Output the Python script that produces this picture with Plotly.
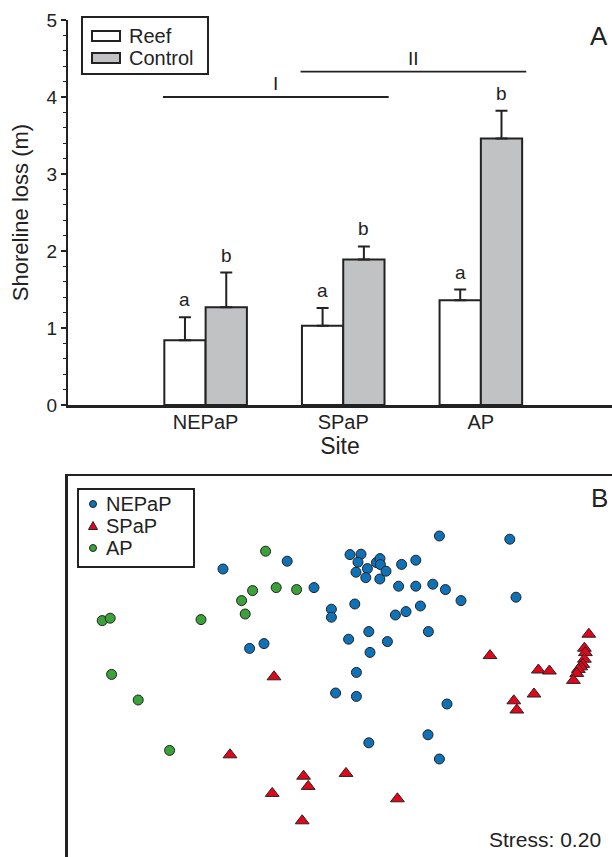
import plotly.graph_objects as go

# ---------------- Panel A data ----------------
sites = ["NEPaP", "SPaP", "AP"]
reef_mean = [0.84, 1.03, 1.36]
reef_err = [0.30, 0.23, 0.14]
control_mean = [1.27, 1.89, 3.46]
control_err = [0.45, 0.17, 0.36]
reef_letters = ["a", "a", "a"]
control_letters = ["b", "b", "b"]
group_labels = ["I", "II"]
group_start = ["NEPaP", "SPaP"]
group_end = ["SPaP", "AP"]
group_level = [4.0, 4.33]

# ---------------- Panel B data (NMDS scores) ----------------
nepap_x = [-0.585, -0.264, -0.13, -0.043, -0.043, -0.452, -0.38, 0.043, 0.05, 0.105,
           0.09, 0.182, 0.2, 0.202, 0.08, 0.137, 0.129, 0.199, 0.23, 0.308,
           0.379, 0.497, 0.849, 0.293, 0.379, 0.464, 0.527, 0.605, 0.88, 0.074,
           0.277, 0.33, 0.402, 0.144, 0.237, 0.15, 0.442, 0.082, -0.022, 0.082,
           0.535, 0.144, 0.44, 0.497]
nepap_y = [0.455, 0.494, 0.362, 0.254, 0.214, 0.058, 0.082, 0.104, 0.527, 0.529,
           0.489, 0.487, 0.507, 0.477, 0.439, 0.457, 0.412, 0.405, 0.444, 0.478,
           0.499, 0.62, 0.604, 0.369, 0.369, 0.379, 0.352, 0.297, 0.314, 0.28,
           0.225, 0.242, 0.27, 0.142, 0.092, 0.038, 0.142, -0.062, -0.165, -0.182,
           -0.22, -0.414, -0.374, -0.495]
spap_x = [-0.33, -0.55, -0.182, -0.159, -0.339, 0.03, -0.189, 0.287, 0.75, 0.992,
          1.047, 0.97, 0.869, 0.884, 1.244, 1.222, 1.227, 1.222, 1.214, 1.204,
          1.192, 1.184, 1.167]
spap_y = [-0.084, -0.474, -0.581, -0.632, -0.667, -0.567, -0.804, -0.694, 0.022, -0.05,
          -0.055, -0.17, -0.204, -0.25, 0.129, 0.059, 0.037, 0.004, -0.022, -0.034,
          -0.047, -0.067, -0.102]
ap_x = [-0.372, -0.437, -0.319, -0.217, -0.492, -0.474, -1.189, -1.149, -0.695, -1.142,
        -1.009, -0.852]
ap_y = [0.544, 0.347, 0.362, 0.352, 0.297, 0.23, 0.197, 0.209, 0.202, -0.072,
        -0.2, -0.452]
stress_value = 0.20

# ---------------- styling ----------------
W, H = 612, 857
FONT = "Liberation Sans, Arial, Helvetica, sans-serif"
INK = "#222222"
GRAY = "#c1c2c4"
BLUE = "#0f72b9"
RED = "#e3061b"
GREEN = "#3ba23a"


def px_x(p):
    return p / W


def px_y(p):
    return 1 - p / H


fig = go.Figure()

fig.add_trace(go.Bar(
    x=sites, y=reef_mean, name="Reef", offsetgroup="reef",
    marker=dict(color="white", line=dict(color=INK, width=2)),
    error_y=dict(type="data", symmetric=False, array=reef_err,
                 arrayminus=[0] * len(reef_err), color=INK, thickness=2, width=6),
    xaxis="x", yaxis="y", showlegend=False,
))
fig.add_trace(go.Bar(
    x=sites, y=control_mean, name="Control", offsetgroup="control",
    marker=dict(color=GRAY, line=dict(color=INK, width=2)),
    error_y=dict(type="data", symmetric=False, array=control_err,
                 arrayminus=[0] * len(control_err), color=INK, thickness=2, width=6),
    xaxis="x", yaxis="y", showlegend=False,
))

marker_line = dict(color=INK, width=1)
fig.add_trace(go.Scatter(x=nepap_x, y=nepap_y, mode="markers", name="NEPaP",
                         marker=dict(symbol="circle", size=10, color=BLUE, line=marker_line),
                         xaxis="x2", yaxis="y2", showlegend=False))
fig.add_trace(go.Scatter(x=ap_x, y=ap_y, mode="markers", name="AP",
                         marker=dict(symbol="circle", size=10, color=GREEN, line=marker_line),
                         xaxis="x2", yaxis="y2", showlegend=False))
fig.add_trace(go.Scatter(x=spap_x, y=spap_y, mode="markers", name="SPaP",
                         marker=dict(symbol="triangle-up", size=12, color=RED, line=marker_line),
                         xaxis="x2", yaxis="y2", showlegend=False))

annotations = []
shapes = []

# letters above error bars
half = 0.15  # half of a bar width in category units
for i, s in enumerate(sites):
    annotations.append(dict(x=i - half, y=reef_mean[i] + reef_err[i], xref="x", yref="y",
                            text=reef_letters[i], showarrow=False, yanchor="bottom", yshift=5,
                            font=dict(size=19, color=INK, family=FONT)))
    annotations.append(dict(x=i + half, y=control_mean[i] + control_err[i], xref="x", yref="y",
                            text=control_letters[i], showarrow=False, yanchor="bottom", yshift=5,
                            font=dict(size=19, color=INK, family=FONT)))

# grouping lines I / II
for lab, s0, s1, lev in zip(group_labels, group_start, group_end, group_level):
    x0 = sites.index(s0) - 0.31
    x1 = sites.index(s1) + 0.33
    shapes.append(dict(type="line", xref="x", yref="y", x0=x0, x1=x1, y0=lev, y1=lev,
                       line=dict(color=INK, width=1.8)))
    annotations.append(dict(x=(x0 + x1) / 2, y=lev, xref="x", yref="y", text=lab,
                            showarrow=False, yanchor="bottom", yshift=1,
                            font=dict(size=19, color=INK, family=FONT)))

# panel A legend (drawn)
shapes.append(dict(type="rect", xref="paper", yref="paper",
                   x0=px_x(82), x1=px_x(208), y0=px_y(74), y1=px_y(17),
                   line=dict(color=INK, width=2), fillcolor="white"))
shapes.append(dict(type="rect", xref="paper", yref="paper",
                   x0=px_x(92), x1=px_x(120), y0=px_y(41), y1=px_y(31),
                   line=dict(color=INK, width=2), fillcolor="white"))
shapes.append(dict(type="rect", xref="paper", yref="paper",
                   x0=px_x(92), x1=px_x(120), y0=px_y(63), y1=px_y(53),
                   line=dict(color=INK, width=2), fillcolor=GRAY))
for txt, yy in (("Reef", 36), ("Control", 58)):
    annotations.append(dict(x=px_x(127), y=px_y(yy), xref="paper", yref="paper", text=txt,
                            showarrow=False, xanchor="left", yanchor="middle",
                            font=dict(size=20, color=INK, family=FONT)))

# panel B legend (drawn)
shapes.append(dict(type="rect", xref="paper", yref="paper",
                   x0=px_x(78), x1=px_x(194), y0=px_y(567), y1=px_y(489),
                   line=dict(color=INK, width=2), fillcolor="white"))
for cy, col in ((504, BLUE), (548, GREEN)):
    shapes.append(dict(type="circle", xref="paper", yref="paper",
                       x0=px_x(89.5), x1=px_x(96.5), y0=px_y(cy + 3.5), y1=px_y(cy - 3.5),
                       line=dict(color=INK, width=1), fillcolor=col))
tx, ty = 93, 526
shapes.append(dict(type="path", xref="paper", yref="paper",
                   path=f"M {px_x(tx - 4.5)},{px_y(ty + 3.5)} L {px_x(tx + 4.5)},{px_y(ty + 3.5)} "
                        f"L {px_x(tx)},{px_y(ty - 4.5)} Z",
                   line=dict(color=INK, width=1), fillcolor=RED))
for txt, yy in (("NEPaP", 504), ("SPaP", 526), ("AP", 548)):
    annotations.append(dict(x=px_x(104), y=px_y(yy), xref="paper", yref="paper", text=txt,
                            showarrow=False, xanchor="left", yanchor="middle",
                            font=dict(size=20, color=INK, family=FONT)))

# panel letters and stress
annotations.append(dict(x=px_x(599), y=px_y(36), xref="paper", yref="paper", text="A",
                        showarrow=False, xanchor="center", yanchor="middle",
                        font=dict(size=26, color=INK, family=FONT)))
annotations.append(dict(x=px_x(599), y=px_y(498), xref="paper", yref="paper", text="B",
                        showarrow=False, xanchor="center", yanchor="middle",
                        font=dict(size=26, color=INK, family=FONT)))
annotations.append(dict(x=px_x(603), y=px_y(839), xref="paper", yref="paper",
                        text=f"Stress: {stress_value:.2f}",
                        showarrow=False, xanchor="right", yanchor="middle",
                        font=dict(size=21, color=INK, family=FONT)))

x_left = px_x(68)

fig.update_layout(
    template="none",
    width=W, height=H,
    margin=dict(l=0, r=0, t=0, b=0, pad=0, autoexpand=False),
    paper_bgcolor="white", plot_bgcolor="white",
    font=dict(family=FONT, color=INK),
    barmode="group", bargap=0.4, bargroupgap=0,
    showlegend=False,
    xaxis=dict(domain=[x_left, 1], anchor="y", range=[-1.0, 2.953], automargin=False,
               showline=True, linecolor=INK, linewidth=2.5, ticks="",
               ticklabelstandoff=-3,
               showgrid=False, zeroline=False,
               tickfont=dict(size=20, color=INK, family=FONT),
               title=dict(text="Site", font=dict(size=23, color=INK, family=FONT), standoff=2)),
    yaxis=dict(domain=[px_y(405), px_y(20)], anchor="x", range=[0, 5], automargin=False,
               dtick=1, tick0=0, showline=True, linecolor=INK, linewidth=2,
               ticks="outside", ticklen=5, tickwidth=1.5, tickcolor=INK,
               minor=dict(dtick=0.2, ticks="outside", ticklen=3, tickwidth=1, tickcolor=INK),
               showgrid=False, zeroline=False,
               tickfont=dict(size=19, color=INK, family=FONT),
               title=dict(text="Shoreline loss (m)", font=dict(size=22, color=INK, family=FONT),
                          standoff=12)),
    xaxis2=dict(domain=[x_left, 1], anchor="y2", side="top", range=[-1.36, 1.36],
                automargin=False,
                showline=True, linecolor=INK, linewidth=2, ticks="",
                showticklabels=False, showgrid=False, zeroline=False),
    yaxis2=dict(domain=[0, px_y(476)], anchor="x2", range=[-0.985, 0.92],
                automargin=False,
                showline=True, linecolor=INK, linewidth=2.5, ticks="",
                showticklabels=False, showgrid=False, zeroline=False),
    annotations=annotations,
    shapes=shapes,
)

fig.write_html(
    "out.html",
    config={"displayModeBar": False},
    post_script="document.body.style.margin='0px';document.body.style.overflow='hidden';",
)
